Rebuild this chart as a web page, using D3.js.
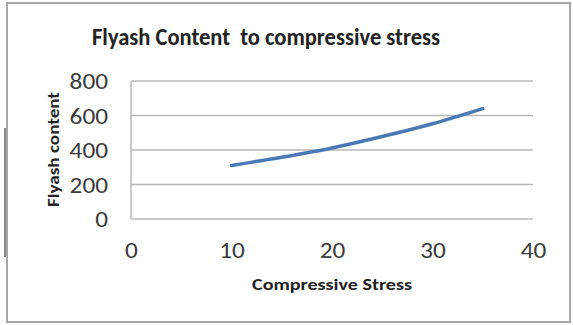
<!DOCTYPE html>
<html lang="en">
    <head>
        <meta charset="UTF-8" />
        <title>Flyash Content to compressive stress</title>
        <style>
            body { margin: 0; background: #fff; }
            text { font-family: Carlito, Calibri, "Open Sans", sans-serif; }
            .grid line { stroke: #b8b8b8; stroke-width: 1.5; }
            .axis path, .axis line { display: none; }
        </style>
    </head>
    <body>
        <div class="chart"></div>

        <script src="https://d3js.org/d3.v7.min.js"></script>

        <script>
            // data
            const stress = [10, 15, 20, 25, 30, 35]
            const flyash = [310, 358, 412, 478, 552, 640]
            const xTicks = [0, 10, 20, 30, 40]
            const yTicks = [0, 200, 400, 600, 800]

            const width = 573
            const height = 325
            const font = 'Carlito, Calibri, "Open Sans", sans-serif'

            const svg = d3.select('.chart')
              .append('svg')
              .attr('width', width)
              .attr('height', height)

            // outer frame
            svg.append('rect')
              .attr('x', 7).attr('y', 3)
              .attr('width', 563).attr('height', 319)
              .attr('fill', '#fff')
              .attr('stroke', '#a8a8a8')
              .attr('stroke-width', 2)

            // dark bit on the left edge
            svg.append('line')
              .attr('x1', 5).attr('x2', 5)
              .attr('y1', 128).attr('y2', 257)
              .attr('stroke', '#8a8a8a')
              .attr('stroke-width', 2)

            const xScale = d3.scaleLinear()
              .domain([0, 40])
              .range([131, 533])

            const yScale = d3.scaleLinear()
              .domain([0, 800])
              .range([219, 81])

            // horizontal grid lines
            svg.append('g')
              .attr('class', 'grid')
              .selectAll('line')
              .data(yTicks)
              .join('line')
              .attr('x1', xScale(0))
              .attr('x2', xScale(40))
              .attr('y1', d => yScale(d))
              .attr('y2', d => yScale(d))

            // y axis line
            svg.append('line')
              .attr('x1', xScale(0)).attr('x2', xScale(0))
              .attr('y1', yScale(0)).attr('y2', yScale(800))
              .attr('stroke', '#b8b8b8')
              .attr('stroke-width', 1.5)

            // the picture's digits are a little wider than Carlito's
            const digitWidth = 12.8

            const xAxis = d3.axisBottom(xScale)
              .tickValues(xTicks)
              .tickSize(0)
              .tickPadding(0)

            svg.append('g')
              .attr('class', 'axis')
              .attr('transform', 'translate(0, 258)')
              .call(xAxis)
              .selectAll('text')
              .attr('dy', 0)
              .attr('textLength', d => String(d).length * digitWidth)
              .attr('lengthAdjust', 'spacingAndGlyphs')
              .style('font-size', '22px')
              .style('font-family', font)
              .attr('fill', '#3a3a3a')

            const yAxis = d3.axisLeft(yScale)
              .tickValues(yTicks)
              .tickSize(0)
              .tickPadding(0)

            svg.append('g')
              .attr('class', 'axis')
              .attr('transform', 'translate(108, 0)')
              .call(yAxis)
              .selectAll('text')
              .attr('dy', '0.35em')
              .attr('textLength', d => String(d).length * digitWidth)
              .attr('lengthAdjust', 'spacingAndGlyphs')
              .style('font-size', '22px')
              .style('font-family', font)
              .attr('fill', '#3a3a3a')

            // the curve
            const line = d3.line()
              .x((d, i) => xScale(stress[i]))
              .y(d => yScale(d))
              .curve(d3.curveMonotoneX)

            svg.append('path')
              .datum(flyash)
              .attr('d', line)
              .attr('fill', 'none')
              .attr('stroke', '#4a7ab5')
              .attr('stroke-width', 3.5)
              .attr('stroke-linecap', 'round')

            // titles
            svg.append('text')
              .attr('x', 92)
              .attr('y', 45)
              .attr('xml:space', 'preserve')
              .attr('textLength', 348)
              .attr('lengthAdjust', 'spacingAndGlyphs')
              .style('font-size', '25px')
              .style('font-weight', 'bold')
              .attr('fill', '#222')
              .text('Flyash Content  to compressive stress')

            svg.append('text')
              .attr('x', 252)
              .attr('y', 290)
              .attr('textLength', 160)
              .attr('lengthAdjust', 'spacingAndGlyphs')
              .style('font-size', '16px')
              .style('font-weight', 'bold')
              .attr('fill', '#222')
              .text('Compressive Stress')

            svg.append('text')
              .attr('transform', 'translate(59, 207) rotate(-90)')
              .attr('textLength', 115)
              .attr('lengthAdjust', 'spacingAndGlyphs')
              .style('font-size', '15px')
              .style('font-weight', 'bold')
              .attr('fill', '#222')
              .text('Flyash content')
        </script>
    </body>
</html>
